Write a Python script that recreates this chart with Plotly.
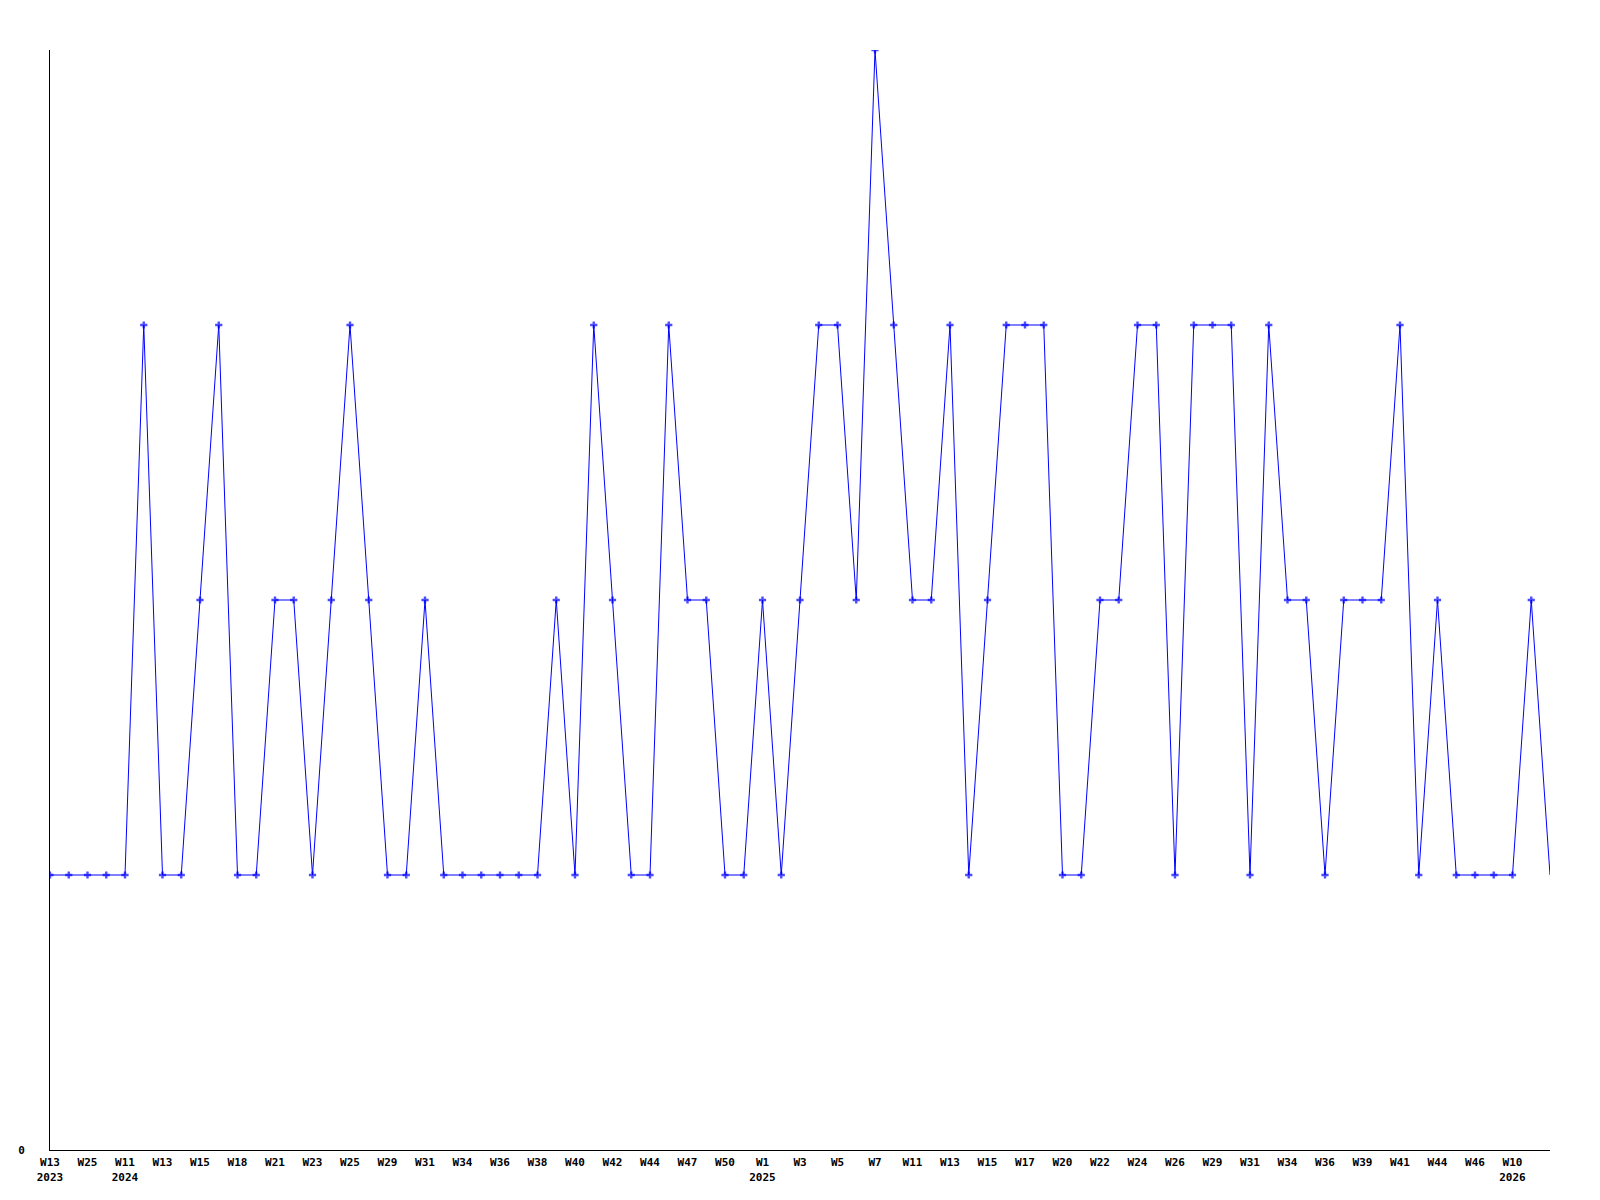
import plotly.graph_objects as go

# Weekly counts (one per week slot, left to right)
values = [1, 1, 1, 1, 1, 3, 1, 1, 2, 3,
          1, 1, 2, 2, 1, 2, 3, 2, 1, 1,
          2, 1, 1, 1, 1, 1, 1, 2, 1, 3,
          2, 1, 1, 3, 2, 2, 1, 1, 2, 1,
          2, 3, 3, 2, 4, 3, 2, 2, 3, 1,
          2, 3, 3, 3, 1, 1, 2, 2, 3, 3,
          1, 3, 3, 3, 1, 3, 2, 2, 1, 2,
          2, 2, 3, 1, 2, 1, 1, 1, 1, 2,
          1]

# Tick labels shown on every second week slot
tick_weeks = ["W13", "W25", "W11", "W13", "W15", "W18", "W21", "W23", "W25", "W29",
              "W31", "W34", "W36", "W38", "W40", "W42", "W44", "W47", "W50", "W1",
              "W3", "W5", "W7", "W11", "W13", "W15", "W17", "W20", "W22", "W24",
              "W26", "W29", "W31", "W34", "W36", "W39", "W41", "W44", "W46", "W10"]
tick_years = ["2023", "", "2024", "", "", "", "", "", "", "",
              "", "", "", "", "", "", "", "", "", "2025",
              "", "", "", "", "", "", "", "", "", "",
              "", "", "", "", "", "", "", "", "", "2026"]

x = list(range(len(values)))
tickvals = [2 * i for i in range(len(tick_weeks))]
ticktext = [w + ("<br>" + y if y else "") for w, y in zip(tick_weeks, tick_years)]

marker_sizes = [6] * (len(values) - 1) + [0]

fig = go.Figure()
fig.add_trace(go.Scatter(
    x=x, y=values, mode="lines+markers",
    line=dict(color="#0000ff", width=1),
    marker=dict(symbol="cross", size=marker_sizes, color="#0000ff", line=dict(width=0)),
    hoverinfo="skip", showlegend=False,
))

font = dict(family="DejaVu Sans Mono", size=11, color="black", weight="bold")

fig.update_layout(
    width=1584, height=1184,
    margin=dict(l=42, r=42, t=42, b=42, autoexpand=False),
    paper_bgcolor="white", plot_bgcolor="white",
    xaxis=dict(
        range=[0, len(values) - 1], tickmode="array", tickvals=tickvals, ticktext=ticktext,
        showgrid=False, zeroline=False, showline=True, linecolor="black", linewidth=1,
        ticks="", tickfont=font, tickangle=0, ticklabelstandoff=2, automargin=False,
    ),
    yaxis=dict(
        range=[0, 4], tickmode="array", tickvals=[0], ticktext=["0"],
        showgrid=False, zeroline=False, showline=True, linecolor="black", linewidth=1,
        ticks="", tickfont=font, ticklabelstandoff=22, automargin=False,
    ),
)

fig.write_html("out.html")
